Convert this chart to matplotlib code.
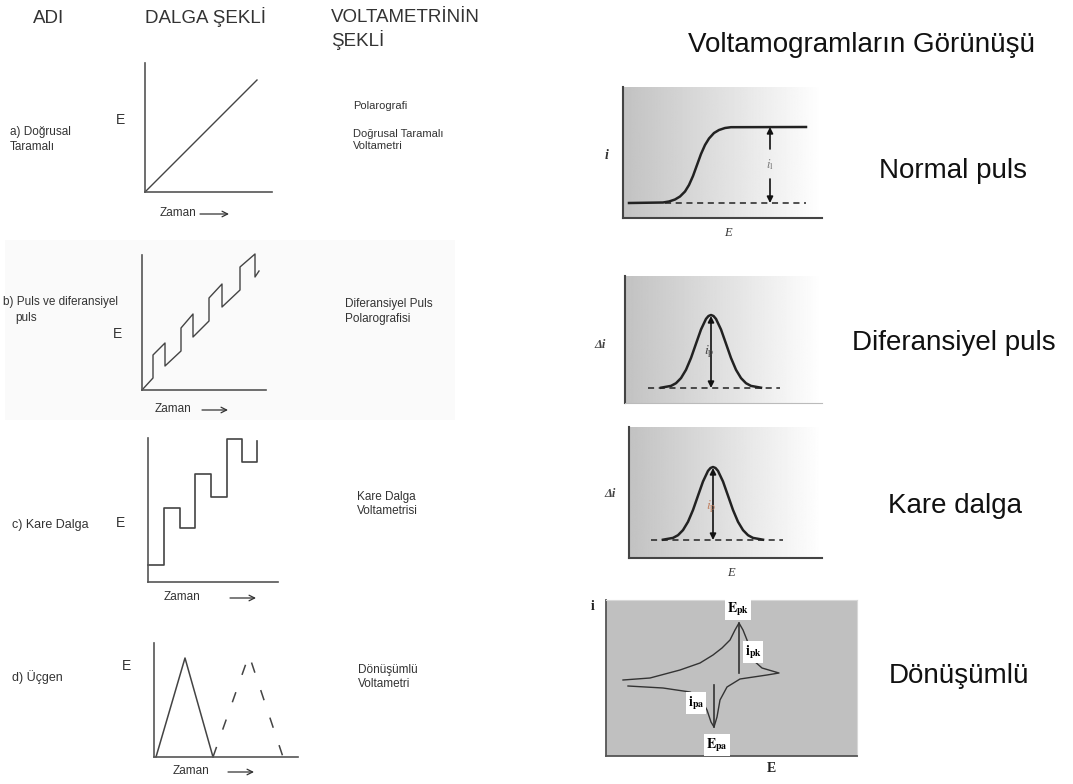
import matplotlib
matplotlib.use('Agg')
import matplotlib.pyplot as plt
import numpy as np
from matplotlib.patches import Rectangle

W, H = 1073, 784
plt.rcParams['font.family'] = ['Liberation Sans', 'DejaVu Sans']
plt.rcParams['mathtext.fontset'] = 'stix'

# ---------------- data ----------------
row_names = ["a) Doğrusal\nTaramalı", "b) Puls ve diferansiyel", "c) Kare Dalga", "d) Üçgen"]
method_names = ["Doğrusal Taramalı\nVoltametri", "Diferansiyel Puls\nPolarografisi",
                "Kare Dalga\nVoltametrisi", "Dönüşümlü\nVoltametri"]
curve_names = ["Normal puls", "Diferansiyel puls", "Kare dalga", "Dönüşümlü"]

# waveforms (time, potential) in arbitrary units
lin_t = [0, 112]
lin_E = [0, 112]
pulse_t = [0, 11, 11, 23, 23, 39, 39, 51, 51, 67, 67, 80, 80, 98, 98, 113, 113, 117]
pulse_E = [0, 12, 35, 47, 24, 39, 62, 76, 53, 69, 92, 106, 83, 100, 123, 136, 113, 119]
sq_t = [0, 16, 16, 32, 32, 47, 47, 63, 63, 79, 79, 94, 94, 109, 109]
sq_E = [17, 17, 74, 74, 54, 54, 108, 108, 85, 85, 143, 143, 120, 120, 141]
tri1_t = [2, 31, 59]
tri1_E = [0, 99, 0]
tri2_t = [59, 95, 129]
tri2_E = [0, 102, 0]

# normal pulse voltammogram
np_E = [6, 40, 46, 52, 57, 62, 66, 70, 74, 78, 82, 86, 91, 96, 102, 108, 183]
np_i = [0, 0.5, 1.5, 3.5, 6.5, 11.5, 18, 27, 38, 49, 58, 64.5, 70, 73, 75, 75.8, 76]

# peak shaped voltammograms (potential relative to peak, delta i)
peak_dE = [-50, -40, -35, -30, -25, -20, -15, -10, -5, -2.5, 0, 2.5, 5, 10, 15, 20, 25, 30, 35, 40, 50]
peak_di = [0.3, 2.1, 4.8, 9.9, 18.2, 30.0, 44.3, 58.5, 69.1, 72.0, 73,
           72.0, 69.1, 58.5, 44.3, 30.0, 18.2, 9.9, 4.8, 2.1, 0.3]

# cyclic voltammogram
cv_E = [17, 44, 74, 94, 107, 116, 124, 129, 133, 137, 141, 147, 156, 173,
        161, 134, 121, 114, 111, 108, 105, 101, 94, 84, 57, 22]
cv_i = [76, 78, 86, 93, 101, 108, 116, 126, 133, 126, 116, 96, 88, 83,
        81, 77, 69, 56, 39, 29, 34, 46, 59, 64, 68, 70]
cv_pk = (133, 133, 83)   # E, top, bottom of cathodic peak marker
cv_pa = (108, 71, 29)

fig = plt.figure(figsize=(W / 100, H / 100), dpi=100)
fig.patch.set_facecolor('white')


def px_axes(x0, y0, x1, y1, z=1):
    return fig.add_axes([x0 / W, 1 - y1 / H, (x1 - x0) / W, (y1 - y0) / H], zorder=z)


bg = px_axes(0, 0, W, H, z=0)
bg.set_xlim(0, W)
bg.set_ylim(H, 0)
bg.axis('off')

txt = '#333333'
# faint panel background of row b
bg.add_patch(Rectangle((5, 240), 450, 180, facecolor='#fafafa', edgecolor='none'))

# headers
bg.text(33, 18, "ADI", fontsize=13.5, color=txt, va='center')
bg.text(145, 17, "DALGA ŞEKLİ", fontsize=13.5, color=txt, va='center')
bg.text(331, 17, "VOLTAMETRİNİN", fontsize=13.5, color=txt, va='center')
bg.text(331, 40, "ŞEKLİ", fontsize=13.5, color=txt, va='center')
bg.text(688, 52, "Voltamogramların Görünüşü", fontsize=20, color='#111111', va='baseline')

# row labels
bg.text(10, 139.5, row_names[0], fontsize=8.5, color=txt, va='center', linespacing=1.27)
bg.text(3, 302, row_names[1], fontsize=8.5, color=txt, va='center')
bg.text(15, 318, "puls", fontsize=8.5, color=txt, va='center')
bg.text(12, 525, row_names[2], fontsize=9, color=txt, va='center')
bg.text(12, 677, row_names[3], fontsize=9, color=txt, va='center')

# method labels
bg.text(353, 106, "Polarografi", fontsize=8, color=txt, va='center')
bg.text(353, 140, method_names[0], fontsize=8, color=txt, va='center', linespacing=1.3)
bg.text(345, 311.5, method_names[1], fontsize=8.5, color=txt, va='center', linespacing=1.25)
bg.text(357, 504, method_names[2], fontsize=8.5, color=txt, va='center', linespacing=1.2)
bg.text(358, 677, method_names[3], fontsize=8.5, color=txt, va='center', linespacing=1.2)

# E labels & Zaman arrows
for (ex, ey), (zx, zy), (a0, a1) in [((116, 120), (160, 213), (200, 229)),
                                     ((113, 334), (155, 409), (202, 228)),
                                     ((116, 523), (164, 597), (230, 256)),
                                     ((122, 666), (173, 771), (228, 254))]:
    bg.text(ex, ey, "E", fontsize=10, color=txt, va='center')
    bg.text(zx, zy, "Zaman", fontsize=8.5, color=txt, va='center')
    bg.annotate('', xy=(a1, zy + 1), xytext=(a0, zy + 1),
                arrowprops=dict(arrowstyle='->', lw=0.9, color=txt, shrinkA=0, shrinkB=0))

# curve names on right
bg.text(879, 178, curve_names[0], fontsize=20, color='#111111', va='baseline')
bg.text(852, 350, curve_names[1], fontsize=20, color='#111111', va='baseline')
bg.text(888, 513, curve_names[2], fontsize=20, color='#111111', va='baseline')
bg.text(889, 683, curve_names[3], fontsize=20, color='#111111', va='baseline')

line_c = '#444444'


def wave_axes(x0, ybase, w, h):
    ax = px_axes(x0, ybase - h, x0 + w, ybase, z=2)
    ax.set_xlim(0, w)
    ax.set_ylim(0, h)
    ax.set_facecolor('none')
    for s in ['top', 'right']:
        ax.spines[s].set_visible(False)
    for s in ['left', 'bottom']:
        ax.spines[s].set_color('#555555')
        ax.spines[s].set_linewidth(1.2)
    ax.set_xticks([])
    ax.set_yticks([])
    return ax


ax = wave_axes(145, 192, 127, 129)
ax.plot(lin_t, lin_E, color=line_c, lw=1.0, clip_on=False)

ax = wave_axes(142, 390, 124, 135)
ax.plot(pulse_t, pulse_E, color=line_c, lw=1.0, clip_on=False)

ax = wave_axes(148, 582, 130, 144)
ax.plot(sq_t, sq_E, color=line_c, lw=1.2, clip_on=False)

ax = wave_axes(154, 757, 144, 114)
ax.plot(tri1_t, tri1_E, color=line_c, lw=1.1, clip_on=False)
ax.plot(tri2_t, tri2_E, color=line_c, lw=1.1, clip_on=False, dashes=(7, 12))

# ---------------- voltammograms ----------------
grad = np.linspace(0.76, 1.0, 256).reshape(1, -1)


def grad_axes(x0, y0, x1, y1, xlim, ylim, bottom=True):
    ax = px_axes(x0, y0, x1, y1, z=2)
    ax.set_xlim(*xlim)
    ax.set_ylim(*ylim)
    ax.imshow(grad, cmap='gray', vmin=0, vmax=1, aspect='auto',
              extent=[xlim[0], xlim[1], ylim[0], ylim[1]], zorder=0)
    ax.spines['top'].set_visible(False)
    ax.spines['right'].set_visible(False)
    ax.spines['left'].set_color('#444444')
    ax.spines['left'].set_linewidth(1.5)
    if bottom:
        ax.spines['bottom'].set_color('#444444')
        ax.spines['bottom'].set_linewidth(1.5)
    else:
        ax.spines['bottom'].set_color('#bbbbbb')
    ax.set_xticks([])
    ax.set_yticks([])
    return ax


serif = ['Liberation Serif', 'DejaVu Serif']

# Normal pulse
ax = grad_axes(623, 87, 822, 218, (0, 199), (-15, 116))
ax.plot(np_E, np_i, color='#222222', lw=1.8)
ax.plot([42, 183], [0, 0], color='#222222', lw=1.1, dashes=(4, 3))
ax.annotate('', xy=(147, 76), xytext=(147, 54),
            arrowprops=dict(arrowstyle='-|>', lw=1.2, color='#111111', mutation_scale=9,
                            shrinkA=0, shrinkB=0))
ax.annotate('', xy=(147, 0), xytext=(147, 24),
            arrowprops=dict(arrowstyle='-|>', lw=1.2, color='#111111', mutation_scale=9,
                            shrinkA=0, shrinkB=0))
ax.text(147, 38, r'$i_{\rm l}$', fontsize=9, color='#777777', ha='center', va='center')
bg.text(607, 155, 'i', fontsize=10, family=serif, style='italic', weight='bold',
        color='#333333', ha='center', va='center')
bg.text(728, 233, 'E', fontsize=9, family=serif, style='italic',
        color='#333333', ha='center', va='center')

# Differential pulse
ax = grad_axes(625, 276, 822, 403, (-86, 111), (-15, 112), bottom=False)
ax.plot(peak_dE, peak_di, color='#222222', lw=1.8)
ax.plot([-63, 69], [0, 0], color='#222222', lw=1.1, dashes=(4, 3))
ax.annotate('', xy=(0, 72), xytext=(0, 0),
            arrowprops=dict(arrowstyle='<|-|>', lw=1.2, color='#111111', mutation_scale=9,
                            shrinkA=0, shrinkB=0))
ax.text(-2, 36, r'$i_{\rm p}$', fontsize=10, color='#444444', ha='center', va='center')
bg.text(600, 345, 'Δi', fontsize=9, family=serif, style='italic', weight='bold',
        color='#444444', ha='center', va='center')

# Square wave
ax = grad_axes(629, 427, 822, 558, (-84, 109), (-18, 113))
ax.plot(peak_dE, peak_di, color='#222222', lw=1.8)
ax.plot([-62, 70], [0, 0], color='#222222', lw=1.1, dashes=(4, 3))
ax.annotate('', xy=(0, 72), xytext=(0, 0),
            arrowprops=dict(arrowstyle='<|-|>', lw=1.2, color='#111111', mutation_scale=9,
                            shrinkA=0, shrinkB=0))
ax.text(-2, 33, r'$i_{\rm p}$', fontsize=10, color='#c08060', ha='center', va='center')
bg.text(610, 494, 'Δi', fontsize=9, family=serif, style='italic', weight='bold',
        color='#444444', ha='center', va='center')
bg.text(731, 573, 'E', fontsize=9, family=serif, style='italic',
        color='#333333', ha='center', va='center')

# Cyclic voltammogram
ax = px_axes(606, 600, 857, 756, z=2)
ax.set_xlim(0, 251)
ax.set_ylim(0, 156)
ax.set_facecolor('#c0c0c0')
for s in ['top', 'right']:
    ax.spines[s].set_color('#d8d8d8')
for s in ['left', 'bottom']:
    ax.spines[s].set_color('#555555')
    ax.spines[s].set_linewidth(1.3)
ax.set_xticks([])
ax.set_yticks([])
ax.plot(cv_E, cv_i, color='#333333', lw=1.0)
ax.plot([cv_pk[0], cv_pk[0]], [cv_pk[1], cv_pk[2]], color='#333333', lw=1.2)
ax.plot([cv_pa[0], cv_pa[0]], [cv_pa[1], cv_pa[2]], color='#333333', lw=1.2)
box = dict(facecolor='white', edgecolor='none', pad=1.2)
ax.text(132, 147, r'$\mathbf{E}_{\mathbf{pk}}$', fontsize=10, ha='center', va='center', bbox=box)
ax.text(147, 104, r'$\mathbf{i}_{\mathbf{pk}}$', fontsize=10, ha='center', va='center', bbox=box)
ax.text(90, 53, r'$\mathbf{i}_{\mathbf{pa}}$', fontsize=10, ha='center', va='center', bbox=box)
ax.text(111, 11, r'$\mathbf{E}_{\mathbf{pa}}$', fontsize=10, ha='center', va='center', bbox=box)
bg.text(593, 606, 'i', fontsize=10, family=serif, weight='bold', color='#222222',
        ha='center', va='center')
bg.text(771, 768, 'E', fontsize=10, family=serif, weight='bold', color='#222222',
        ha='center', va='center')

fig.savefig('out.png', dpi=100, facecolor='white')
